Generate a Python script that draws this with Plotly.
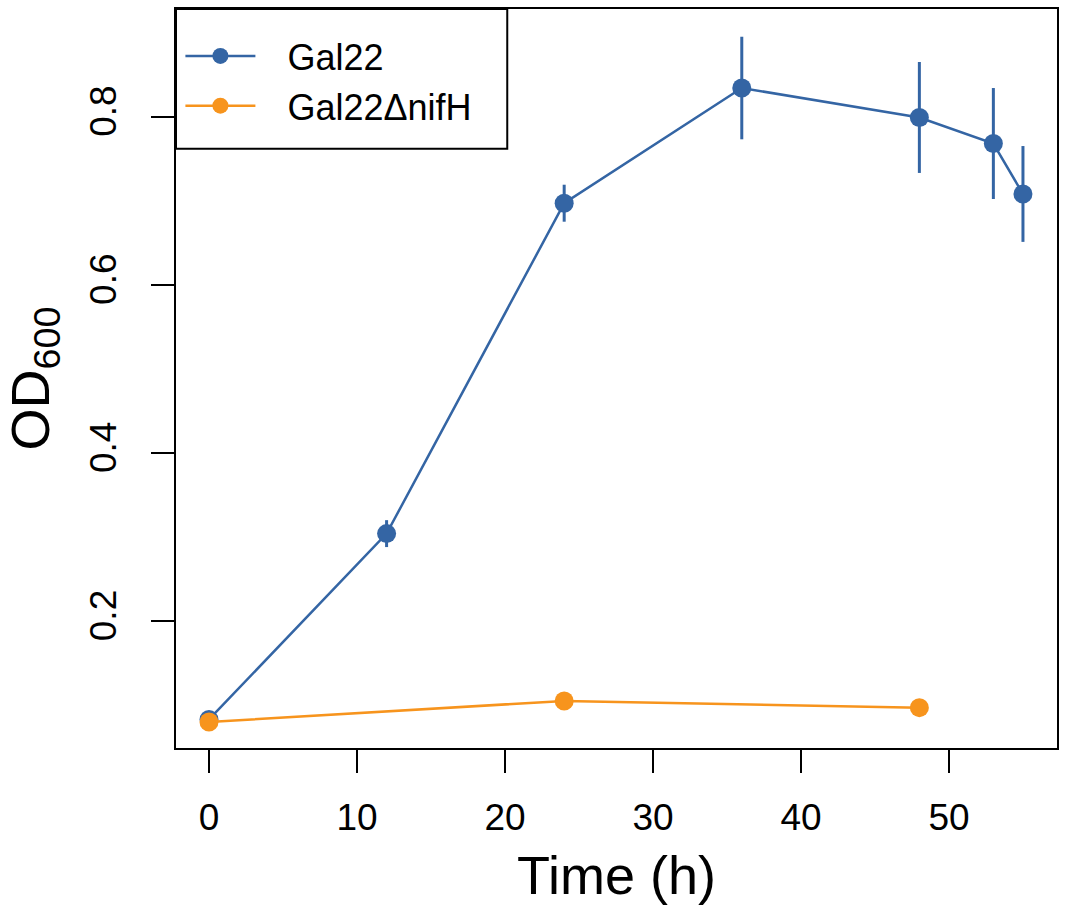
import plotly.graph_objects as go

# growth curves, OD600 vs time
time_gal22 = [0, 12, 24, 36, 48, 53, 55]
od_gal22 = [0.083, 0.304, 0.697, 0.834, 0.799, 0.768, 0.708]
sd_gal22 = [0.004, 0.016, 0.022, 0.061, 0.066, 0.066, 0.057]

time_nifh = [0, 24, 48]
od_nifh = [0.080, 0.105, 0.097]

series_names = ["Gal22", "Gal22\u0394nifH"]
x_ticks = [0, 10, 20, 30, 40, 50]
y_ticks = [0.2, 0.4, 0.6, 0.8]

BLUE = "#3465A4"
ORANGE = "#F7941D"
FONT = "Liberation Sans, Arial, sans-serif"
PAD = "\u2002\u2005"  # push legend text right, like R's legend spacing


def main():
    fig = go.Figure()
    fig.add_trace(go.Scatter(
        x=time_gal22, y=od_gal22, name=PAD + series_names[0], mode="lines+markers",
        line=dict(color=BLUE, width=2.5),
        marker=dict(color=BLUE, size=19),
        error_y=dict(type="data", array=sd_gal22, color=BLUE, thickness=3, width=0),
    ))
    fig.add_trace(go.Scatter(
        x=time_nifh, y=od_nifh, name=PAD + series_names[1], mode="lines+markers",
        line=dict(color=ORANGE, width=2.5),
        marker=dict(color=ORANGE, size=19),
    ))

    axis_common = dict(
        showline=True, mirror=True, linecolor="black", linewidth=2,
        ticks="outside", ticklen=23, tickwidth=2, tickcolor="black",
        showgrid=False, zeroline=False,
        tickfont=dict(family=FONT, size=37, color="black"),
    )
    fig.update_xaxes(
        range=[-2.23, 57.3], tickvals=x_ticks, ticklabelstandoff=13,
        title=dict(text="Time (h)", font=dict(family=FONT, size=54, color="black"), standoff=19),
        **axis_common,
    )
    fig.update_yaxes(
        range=[0.049, 0.928], tickvals=y_ticks, tickangle=-90, ticklabelstandoff=20,
        title=dict(text="OD<sub>600</sub>", font=dict(family=FONT, size=54, color="black"), standoff=20),
        **axis_common,
    )

    # legend frame like base R
    fig.add_shape(type="rect", xref="paper", yref="paper", x0=0, x1=0.376, y0=0.811, y1=1,
                  line=dict(color="black", width=2))

    fig.update_layout(
        width=1066, height=916,
        margin=dict(l=176, r=9, t=7, b=168),
        paper_bgcolor="white", plot_bgcolor="white",
        showlegend=True,
        legend=dict(x=0.005, y=0.977, xanchor="left", yanchor="top",
                    bgcolor="rgba(0,0,0,0)", borderwidth=0,
                    font=dict(family=FONT, size=36, color="black"),
                    itemwidth=70),
    )
    fig.write_html("out.html", config={"displayModeBar": False},
                   post_script="document.body.style.margin='0';")


if __name__ == "__main__":
    main()
